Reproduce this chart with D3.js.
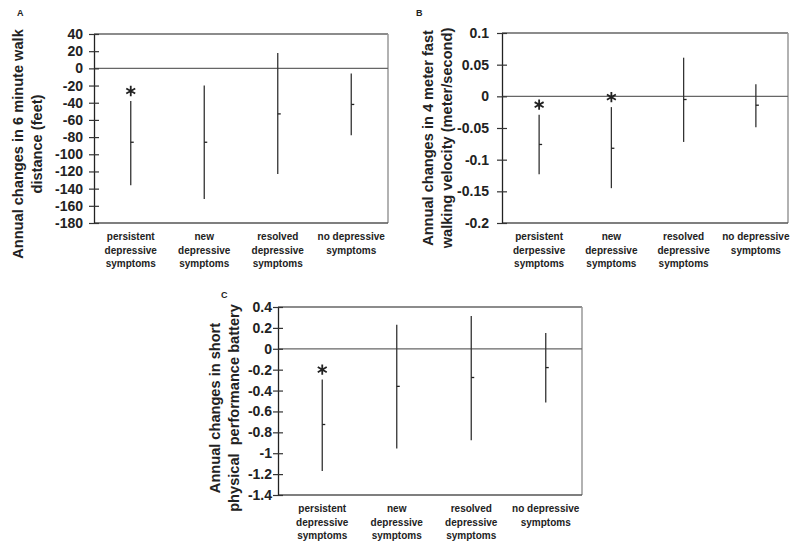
<!DOCTYPE html>
<html>
<head>
<meta charset="utf-8">
<script src="https://cdn.jsdelivr.net/npm/d3@7"></script>
<style>
  body { margin: 0; background: #fff; }
  svg { display: block; font-family: "Liberation Sans", Arial, sans-serif; }
</style>
</head>
<body>
<div id="chart"></div>
<script>
// categories (x axis labels, one array of lines each)
var groupsA = [["persistent", "depressive", "symptoms"], ["new", "depressive", "symptoms"],
               ["resolved", "depressive", "symptoms"], ["no depressive", "symptoms"]];
var groupsB = [["persistent", "derpessive", "symptoms"], ["new", "depressive", "symptoms"],
               ["resolved", "depressive", "symptoms"], ["no depressive", "symptoms"]];
var groupsC = groupsA;

// A: 6 minute walk distance (feet)
var walkMean = [-86, -86, -53, -42];
var walkLow  = [-136, -152, -123, -78];
var walkHigh = [-38, -20, 18, -6];
var walkSig  = [true, false, false, false];
var walkTicks = [40, 20, 0, -20, -40, -60, -80, -100, -120, -140, -160, -180];
var walkTickLabels = ["40", "20", "0", "-20", "-40", "-60", "-80", "-100", "-120", "-140", "-160", "-180"];

// B: 4 meter fast walking velocity (m/s)
var velMean = [-0.076, -0.082, -0.005, -0.014];
var velLow  = [-0.123, -0.145, -0.072, -0.049];
var velHigh = [-0.029, -0.017, 0.061, 0.019];
var velSig  = [true, true, false, false];
var velTicks = [0.1, 0.05, 0, -0.05, -0.1, -0.15, -0.2];
var velTickLabels = ["0.1", "0.05", "0", "-0.05", "-0.1", "-0.15", "-0.2"];

// C: short physical performance battery
var sppbMean = [-0.725, -0.36, -0.275, -0.18];
var sppbLow  = [-1.17, -0.955, -0.875, -0.515];
var sppbHigh = [-0.295, 0.23, 0.315, 0.15];
var sppbSig  = [true, false, false, false];
var sppbTicks = [0.4, 0.2, 0, -0.2, -0.4, -0.6, -0.8, -1, -1.2, -1.4];
var sppbTickLabels = ["0.4", "0.2", "0", "-0.2", "-0.4", "-0.6", "-0.8", "-1", "-1.2", "-1.4"];

var svg = d3.select("#chart").append("svg")
    .attr("width", 800)
    .attr("height", 542);

drawPanel({
    letter: "A", lx: 17, ly: 16,
    left: 94, right: 388, top: 34, bottom: 223, labelGap: 11, band: [94, 388],
    groups: groupsA, mean: walkMean, low: walkLow, high: walkHigh, sig: walkSig,
    ticks: walkTicks, tickLabels: walkTickLabels,
    title: ["Annual changes in 6 minute walk", "distance (feet)"], tx: 23, ty: 144
});

drawPanel({
    letter: "B", lx: 416, ly: 16,
    left: 502, right: 788, top: 33, bottom: 223, labelGap: 13, band: [503, 792],
    groups: groupsB, mean: velMean, low: velLow, high: velHigh, sig: velSig,
    ticks: velTicks, tickLabels: velTickLabels,
    title: ["Annual changes in 4 meter fast", "walking velocity (meter/second)"], tx: 433, ty: 138
});

drawPanel({
    letter: "C", lx: 221, ly: 298,
    left: 278, right: 582, top: 307, bottom: 495, labelGap: 6, band: [285, 583],
    groups: groupsC, mean: sppbMean, low: sppbLow, high: sppbHigh, sig: sppbSig,
    ticks: sppbTicks, tickLabels: sppbTickLabels,
    title: ["Annual changes in short", "physical  performance battery"], tx: 220, ty: 408
});

function drawPanel(p) {
    var y = d3.scaleLinear()
        .domain([p.ticks[p.ticks.length - 1], p.ticks[0]])
        .range([p.bottom, p.top]);
    var x = d3.scaleBand()
        .domain(d3.range(p.groups.length))
        .range(p.band);

    var g = svg.append("g");

    // box: top and right in grey
    g.append("line").attr("x1", p.left).attr("x2", p.right).attr("y1", p.top).attr("y2", p.top)
        .attr("stroke", "#666").attr("stroke-width", 1.3);
    g.append("line").attr("x1", p.right).attr("x2", p.right).attr("y1", p.top).attr("y2", p.bottom)
        .attr("stroke", "#999").attr("stroke-width", 1.5);
    g.append("line").attr("x1", p.left).attr("x2", p.right).attr("y1", p.bottom).attr("y2", p.bottom)
        .attr("stroke", "#555").attr("stroke-width", 1.3);

    // zero line
    g.append("line").attr("x1", p.left).attr("x2", p.right).attr("y1", y(0)).attr("y2", y(0))
        .attr("stroke", "#666").attr("stroke-width", 1.3);

    // y axis with crossing ticks
    var ax = g.append("g")
        .attr("transform", "translate(" + p.left + ",0)")
        .call(d3.axisLeft(y)
            .tickValues(p.ticks)
            .tickFormat(function(d, i) { return p.tickLabels[i]; })
            .tickSizeOuter(0));
    ax.select(".domain").attr("stroke", "#222").attr("stroke-width", 1.3);
    ax.selectAll(".tick line").attr("x1", 5).attr("x2", -5).attr("stroke", "#333").attr("stroke-width", 1.2);
    ax.selectAll(".tick text")
        .attr("x", -p.labelGap)
        .attr("fill", "#222")
        .style("font-size", "14px")
        .style("font-weight", "bold")
        .style("font-family", "'Liberation Sans', Arial, sans-serif");

    // error bars
    var bars = g.selectAll(".bar")
        .data(p.mean)
        .enter().append("g")
        .attr("class", "bar");
    bars.append("line")
        .attr("x1", function(d, i) { return x(i) + x.bandwidth() / 2; })
        .attr("x2", function(d, i) { return x(i) + x.bandwidth() / 2; })
        .attr("y1", function(d, i) { return y(p.high[i]); })
        .attr("y2", function(d, i) { return y(p.low[i]); })
        .attr("stroke", "#333")
        .attr("stroke-width", 1.3);
    bars.append("line")
        .attr("x1", function(d, i) { return x(i) + x.bandwidth() / 2; })
        .attr("x2", function(d, i) { return x(i) + x.bandwidth() / 2 + 3; })
        .attr("y1", function(d) { return y(d); })
        .attr("y2", function(d) { return y(d); })
        .attr("stroke", "#222")
        .attr("stroke-width", 1.3);

    // significance asterisks
    var star = d3.symbol().type(d3.symbolAsterisk).size(75);
    g.selectAll(".star")
        .data(p.sig.map(function(s, i) { return {s: s, i: i}; }).filter(function(d) { return d.s; }))
        .enter().append("path")
        .attr("class", "star")
        .attr("d", star)
        .attr("transform", function(d) {
            return "translate(" + (x(d.i) + x.bandwidth() / 2) + "," + (y(p.high[d.i]) - 10) + ")";
        })
        .attr("fill", "none")
        .attr("stroke", "#222")
        .attr("stroke-width", 1.8);

    // category labels
    var cat = g.selectAll(".cat")
        .data(p.groups)
        .enter().append("text")
        .attr("class", "cat")
        .attr("text-anchor", "middle")
        .attr("fill", "#222")
        .style("font-size", "10px")
        .style("font-weight", "bold");
    cat.selectAll("tspan")
        .data(function(d, i) { return d.map(function(t) { return {t: t, i: i}; }); })
        .enter().append("tspan")
        .attr("x", function(d) { return x(d.i) + x.bandwidth() / 2; })
        .attr("y", function(d, j) { return p.bottom + 17 + j * 13.5; })
        .text(function(d) { return d.t; });

    // y title
    var title = g.append("text")
        .attr("transform", "translate(" + p.tx + "," + p.ty + ") rotate(-90)")
        .attr("text-anchor", "middle")
        .attr("fill", "#222")
        .style("font-size", "14.6px")
        .style("font-weight", "bold");
    title.selectAll("tspan")
        .data(p.title)
        .enter().append("tspan")
        .attr("x", 0)
        .attr("y", function(d, j) { return j * 19; })
        .style("white-space", "pre")
        .text(function(d) { return d; });

    // panel letter
    svg.append("text")
        .attr("x", p.lx)
        .attr("y", p.ly)
        .attr("fill", "#222")
        .style("font-size", "9px")
        .style("font-weight", "bold")
        .text(p.letter);
}
</script>
</body>
</html>
